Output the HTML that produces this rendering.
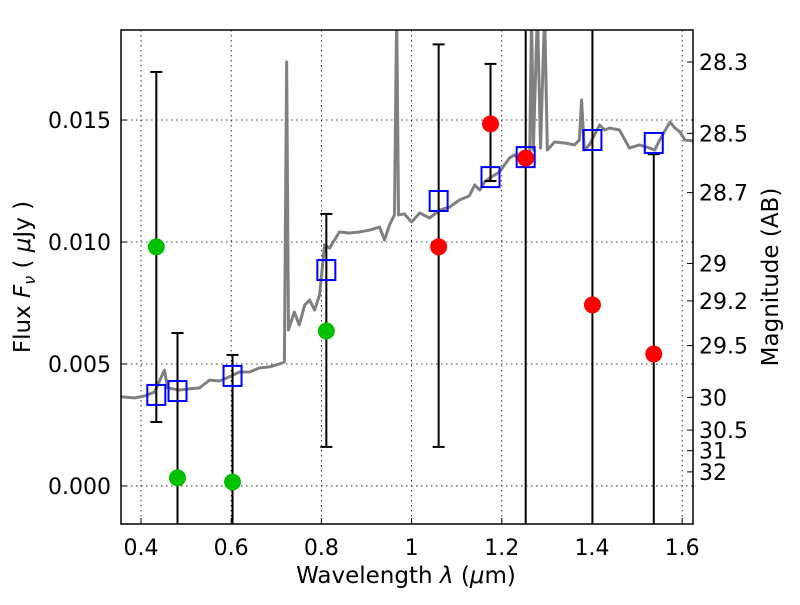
<!DOCTYPE html>
<html><head><meta charset="utf-8"><style>
body{margin:0;background:#fff;}
svg text{font-family:"DejaVu Sans","Liberation Sans",sans-serif;fill:#000;}
</style></head><body>
<svg id="chart" width="800" height="600" viewBox="0 0 800 600" xmlns="http://www.w3.org/2000/svg">
<defs><clipPath id="clip"><rect x="121" y="30" width="572" height="494"/></clipPath></defs>
<rect width="800" height="600" fill="#fff"/>
<g id="grid"></g>
<g id="plot" clip-path="url(#clip)"></g>
<rect x="121" y="30" width="572" height="494" fill="none" stroke="#000" stroke-width="1.5"/>
<g id="ticks"></g>
<text x="406" y="583" font-size="23" text-anchor="middle">Wavelength  <tspan font-style="italic">λ</tspan> (<tspan font-style="italic">μ</tspan>m)</text>
<text transform="translate(30,277) rotate(-90)" font-size="23" text-anchor="middle">Flux  <tspan font-style="italic">F</tspan><tspan font-style="italic" font-size="16" dy="5">ν</tspan><tspan dy="-5">  ( </tspan><tspan font-style="italic">μ</tspan>Jy )</text>
<text transform="translate(778,277) rotate(-90)" font-size="23" text-anchor="middle">Magnitude (AB)</text>
</svg>
<script>
const xTicks=[0.4,0.6,0.8,1.0,1.2,1.4,1.6];
const xTickLabels=["0.4","0.6","0.8","1","1.2","1.4","1.6"];
const yTicks=[0,5,10,15];
const yTickLabels=["0.000","0.005","0.010","0.015"];
const magTicks=[28.3,28.5,28.7,29,29.2,29.5,30,30.5,31,32];
const magTickLabels=["28.3","28.5","28.7","29","29.2","29.5","30","30.5","31","32"];
// spectrum (flux in units of 1e-3 uJy)
const specLam=[0.355,0.386,0.408,0.430,0.452,0.459,0.485,0.507,0.530,0.552,0.574,0.596,0.618,0.641,0.663,0.685,0.707,0.718,0.723,0.727,0.734,0.740,0.751,0.763,0.774,0.785,0.796,0.807,0.818,0.840,0.862,0.884,0.907,0.929,0.940,0.951,0.962,0.967,0.971,0.984,1.000,1.018,1.040,1.062,1.084,1.106,1.128,1.140,1.151,1.162,1.173,1.195,1.206,1.217,1.228,1.239,1.251,1.262,1.266,1.270,1.279,1.286,1.295,1.301,1.317,1.339,1.361,1.372,1.377,1.383,1.394,1.417,1.428,1.439,1.461,1.483,1.505,1.528,1.539,1.550,1.573,1.584,1.595,1.606,1.624];
const specFlux=[3.65,3.61,3.69,3.85,4.75,4.02,3.93,3.98,4.02,4.34,4.30,4.47,4.67,4.67,4.84,4.88,5.00,5.08,17.38,6.39,6.80,7.13,6.60,7.42,7.62,7.21,7.83,9.88,9.75,10.41,10.37,10.41,10.49,10.61,10.08,10.70,11.11,19.5,11.11,11.15,10.82,11.19,10.98,11.31,11.43,11.72,11.89,12.34,12.13,12.46,12.62,12.87,13.16,13.44,13.57,13.36,13.48,13.57,19.5,13.77,19.5,13.85,19.5,13.77,14.10,14.06,13.98,14.18,15.82,13.77,13.98,14.80,14.59,14.67,14.59,13.85,13.98,13.85,13.77,14.18,14.92,14.67,14.51,14.18,14.14];
// photometry
const bandLam=[0.434,0.481,0.603,0.811,1.060,1.175,1.253,1.401,1.537];
const modelFlux=[3.73,3.89,4.51,8.85,11.68,12.66,13.48,14.18,14.06];
const obsFlux=[9.8,0.33,0.16,6.35,9.8,14.84,13.44,7.42,5.41];
const obsColor=["green","green","green","green","red","red","red","red","red"];
const errHigh=[16.97,6.27,5.37,11.15,18.1,17.3,30,30,13.6];
const errLow=[2.62,-5,-5,1.6,1.6,12.5,-5,-5,-5];

const X0=121,X1=693,Y0=524,Y1=30,lmin=0.3557,lmax=1.624,fmin=-1.56,fmax=18.69;
const xs=l=>X0+(l-lmin)/(lmax-lmin)*(X1-X0);
const ys=f=>Y0-(f-fmin)/(fmax-fmin)*(Y0-Y1);
const ym=m=>ys(1000*Math.pow(10,(23.9-m)/2.5));
const NS="http://www.w3.org/2000/svg";
function mk(p,t,a){const e=document.createElementNS(NS,t);for(const k in a)e.setAttribute(k,a[k]);p.appendChild(e);return e;}
const grid=document.getElementById('grid'),plot=document.getElementById('plot'),ticks=document.getElementById('ticks');
xTicks.forEach((v,i)=>{const x=xs(v);
 const g=mk(grid,'line',{x1:x,x2:x,y1:Y1,y2:Y0,stroke:'#000','stroke-width':0.8,'stroke-dasharray':'1.5,3.5'});
 
 
 const t=mk(ticks,'line',{x1:x,x2:x,y1:Y0,y2:Y0-6,stroke:'#000'});
 
 
 const l=mk(ticks,'text',{x:x,y:555,'font-size':22,'text-anchor':'middle'});l.textContent=xTickLabels[i];
 
 
});
yTicks.forEach((v,i)=>{const y=ys(v);
 const g=mk(grid,'line',{x1:X0,x2:X1,y1:y,y2:y,stroke:'#000','stroke-width':0.8,'stroke-dasharray':'1.5,3.5'});
 
 
 const t=mk(ticks,'line',{x1:X0,x2:X0+6,y1:y,y2:y,stroke:'#000'});
 
 
 const l=mk(ticks,'text',{x:111,y:y+8,'font-size':22,'text-anchor':'end'});l.textContent=yTickLabels[i];
 
 
});
magTicks.forEach((m,i)=>{const y=ym(m);
 const t=mk(ticks,'line',{x1:X1,x2:X1-6,y1:y,y2:y,stroke:'#000'});
 
 
 const l=mk(ticks,'text',{x:699,y:y+8,'font-size':22,'text-anchor':'start'});l.textContent=magTickLabels[i];
 
 
});
const sp=mk(plot,'polyline',{points:specLam.map((l,i)=>xs(l)+','+ys(specFlux[i])).join(' '),fill:'none',stroke:'#808080','stroke-width':3,'stroke-linejoin':'round'});


bandLam.forEach((l,i)=>{const x=xs(l);
 const e=mk(plot,'line',{x1:x,x2:x,y1:ys(errHigh[i]),y2:ys(errLow[i]),stroke:'#000','stroke-width':2});
 
 
 [errHigh[i],errLow[i]].forEach(v=>{const c=mk(plot,'line',{x1:x-6,x2:x+6,y1:ys(v),y2:ys(v),stroke:'#000','stroke-width':2});
  
  });
});
bandLam.forEach((l,i)=>{const x=xs(l),y=ys(modelFlux[i]);
 const s=mk(plot,'rect',{x:x-9,y:y-10,width:18,height:20,fill:'none',stroke:'#0000ff','stroke-width':2});
 
 
});
bandLam.forEach((l,i)=>{
 const c=mk(plot,'circle',{cx:xs(l),cy:ys(obsFlux[i]),r:8.5,fill:obsColor[i]=='green'?'#00c000':'#ff0000'});
 
 
});
</script>
</body></html>
